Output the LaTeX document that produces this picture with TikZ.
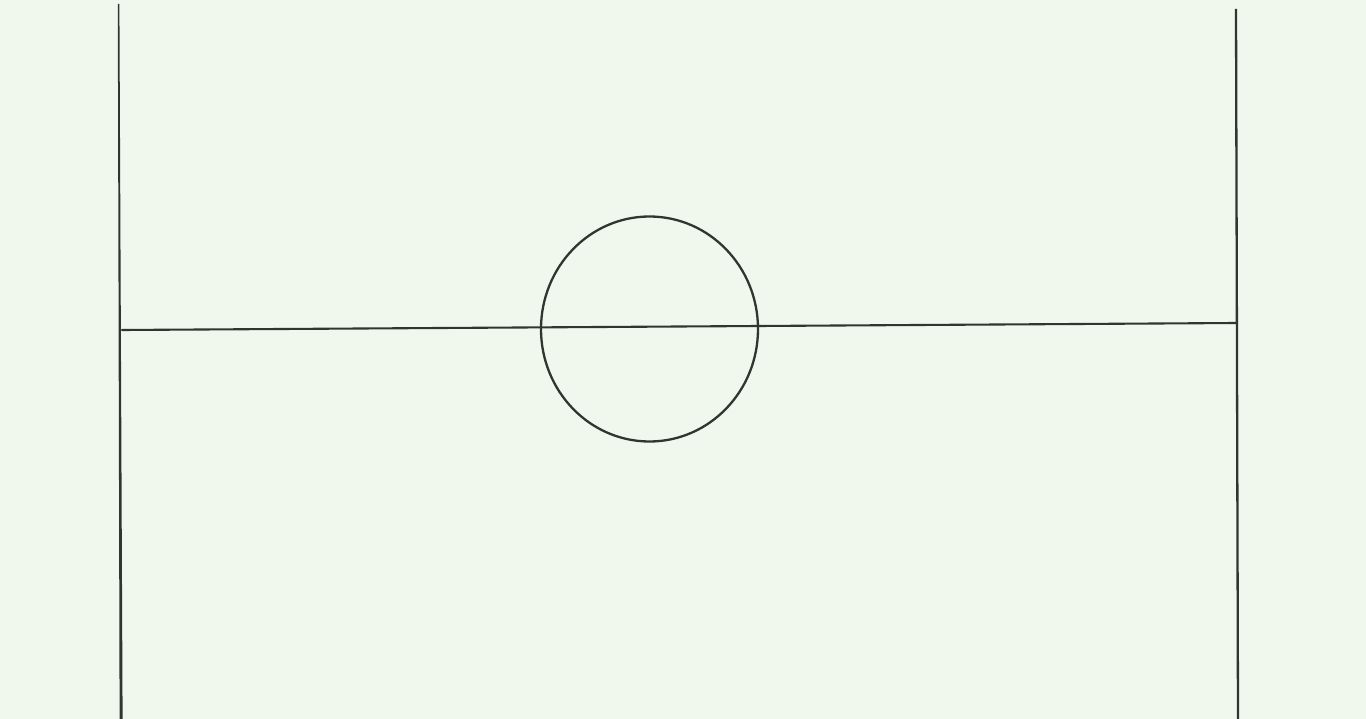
\documentclass[tikz,border=0pt]{standalone}
\usetikzlibrary{calc}
\definecolor{bg}{HTML}{F0F8EE}
\definecolor{ink}{HTML}{2E372E}
\begin{document}
\begin{tikzpicture}[x=1pt,y=-1pt,
  stroke/.style={draw=ink,line width=2.3pt,line cap=round}]
\fill[bg] (0,0) rectangle (1366,719);
\useasboundingbox (0,0) rectangle (1366,719);
\coordinate (lt) at (118.5,4);
\coordinate (lb) at (121,719);
\coordinate (rt) at (1236,9);
\coordinate (rb) at (1238,719);
\coordinate (hl) at (122,330);
\coordinate (hr) at (1236,323);
\coordinate (c) at (649.5,329);
\fill[ink] (117.8,4) -- (119.4,4) -- (122.6,719) -- (119.6,719) -- cycle;
\draw[stroke,line cap=butt] (rt) -- (rb);
\draw[stroke,line width=2.1pt] (hl) -- (hr);
\draw[stroke] (c) ellipse [x radius=108.5, y radius=112.5];
\end{tikzpicture}
\end{document}
